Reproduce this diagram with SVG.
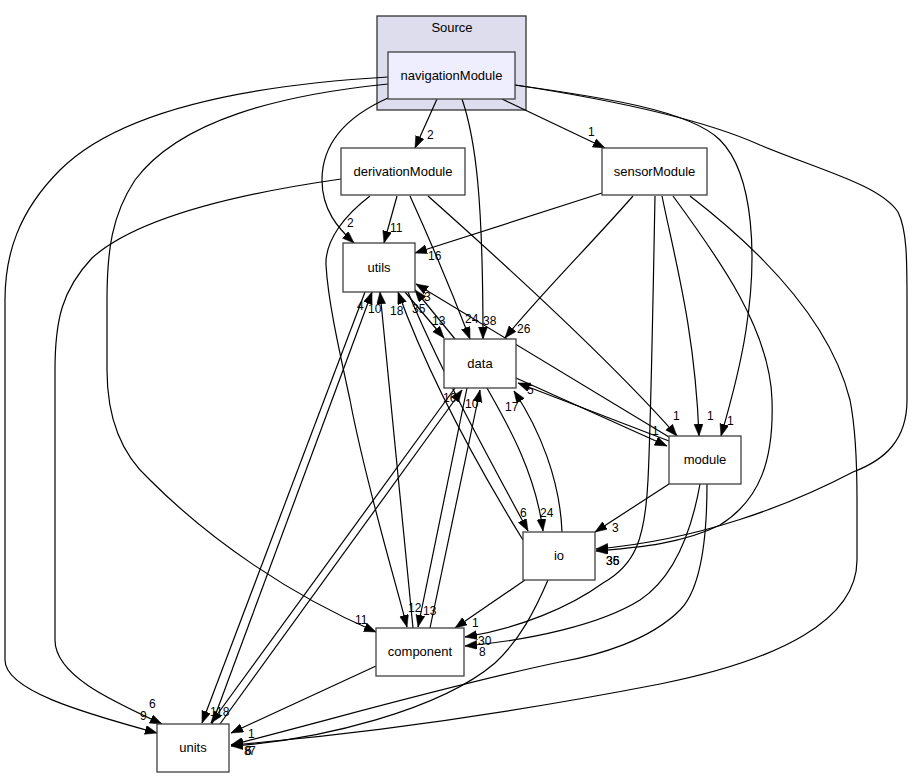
<svg xmlns="http://www.w3.org/2000/svg" width="913" height="777" viewBox="0 0 913 777">
<style>
.bg{fill:#ffffff}
.cl{fill:#ddddee;stroke:#333333;stroke-width:1.3}
.nd rect{fill:#ffffff;stroke:#404040;stroke-width:1.3}
.nd.hl rect{fill:#eeeeff}
.nt{font-family:"Liberation Sans",Arial,Helvetica,sans-serif;font-size:13px;fill:#000;text-anchor:middle}
.e path{fill:none;stroke:#000;stroke-width:1.2;marker-end:url(#ah)}
.e text{font-family:"Liberation Sans",Arial,Helvetica,sans-serif;font-size:12px;fill:#000}
</style>
<defs>
<marker id="ah" markerUnits="userSpaceOnUse" markerWidth="13" markerHeight="10" refX="12" refY="4.5" orient="auto">
<path d="M0,0 L12,4.5 L0,9 z" fill="#000" stroke="#000" stroke-width="0.5"/>
</marker>
</defs>
<rect class="bg" x="0" y="0" width="913" height="777"/>
<g id="cluster_Source">
<rect class="cl" x="377" y="16" width="149" height="94"/>
<text class="nt" x="452" y="32">Source</text>
</g>
<g id="connectors" class="e">
<path d="M437,99 L415,148"/><text x="427" y="139">2</text>
<path d="M502,99 L605,148"/><text x="588" y="136">1</text>
<path d="M388,98 C350,115 322,140 322,180 C322,210 338,228 354,243"/><text x="347" y="227">2</text>
<path d="M462,99 C476,140 483,200 483,339"/><text x="483" y="325">38</text>
<path d="M515,85 C600,97 690,110 720,140 C755,175 757,260 746,330 C740,370 730,405 721,436"/><text x="727" y="425">1</text>
<path d="M515,85 C600,98 700,118 760,145 C820,170 880,185 898,212 C907,230 907,260 907,300 L907,400 C907,440 885,460 853,472 C790,505 700,540 596,549"/><text x="606" y="565">36</text>
<path d="M388,84 C280,95 180,120 135,180 C112,215 107,250 107,300 L107,370 C107,420 122,455 150,480 C210,540 290,595 376,632"/><text x="355" y="624">11</text>
<path d="M388,77 C250,85 120,110 60,170 C18,212 5,255 5,300 L5,660 C5,690 80,712 157,733"/><text x="140" y="720">9</text>
<path d="M341,179 C250,192 140,215 92,258 C62,290 55,320 55,370 L55,640 C55,675 110,700 162,724"/><text x="149" y="708">6</text>
<path d="M397,196 L384,243"/><text x="390" y="232">11</text>
<path d="M410,196 C430,240 455,300 470,339"/><text x="465" y="323">24</text>
<path d="M428,196 C500,260 610,360 677,436"/><text x="673" y="420">1</text>
<path d="M370,196 C345,215 325,240 326,265 C328,300 338,345 350,400 C365,480 395,580 407,627"/><text x="408" y="612">12</text>
<path d="M602,193 L415,253"/><text x="428" y="260">16</text>
<path d="M633,196 C590,245 540,295 505,338"/><text x="517" y="333">26</text>
<path d="M662,196 C675,260 695,330 699,436"/><text x="707" y="420">1</text>
<path d="M655,196 C653,300 651,420 648,480 C645,540 635,565 603,583 C570,607 520,628 465,637"/><text x="478" y="645">30</text>
<path d="M673,196 C720,260 770,330 772,400 C774,460 760,500 720,525 C680,545 630,548 596,551"/><text x="606" y="565">35</text>
<path d="M690,196 C760,250 830,320 850,400 C856,430 857,470 857,500 L857,560 C857,620 780,660 660,684 C500,715 350,735 231,745"/><text x="249" y="755">7</text>
<path d="M405,292 L444,338"/><text x="432" y="325">13</text>
<path d="M408,292 C440,370 490,460 528,531"/><text x="520" y="517">6</text>
<path d="M365,292 L202,723"/><text x="210" y="716">1</text>
<path d="M455,339 L415,290"/><text x="412" y="313">35</text>
<path d="M455,388 L211,723"/><text x="216" y="716">18</text>
<path d="M487,388 C505,420 535,470 543,531"/><text x="540" y="517">24</text>
<path d="M516,378 L667,446"/><text x="652" y="435">1</text>
<path d="M467,388 L418,627"/><text x="423" y="615">13</text>
<path d="M413,628 L380,292"/><text x="368" y="313">10</text>
<path d="M430,628 L480,390"/><text x="465" y="408">10</text>
<path d="M376,666 L231,733"/><text x="248" y="738">1</text>
<path d="M523,540 C480,470 430,380 398,292"/><text x="390" y="315">18</text>
<path d="M562,532 C560,480 540,430 514,391"/><text x="505" y="411">17</text>
<path d="M525,580 L455,628"/><text x="472" y="627">1</text>
<path d="M548,580 C535,610 520,640 495,663 C440,710 320,740 231,746"/><text x="244" y="755">8</text>
<path d="M669,437 L416,284"/><text x="424" y="301">3</text>
<path d="M669,441 L518,383"/><text x="527" y="394">5</text>
<path d="M669,484 L595,532"/><text x="612" y="532">3</text>
<path d="M700,484 C690,540 670,580 640,600 C600,625 530,640 465,646"/><text x="479" y="656">8</text>
<path d="M707,484 C707,540 700,590 680,610 C650,640 600,655 560,662 C450,685 330,720 231,745"/><text x="245" y="755">6</text>
<path d="M212,724 L372,292"/><text x="357" y="310">4</text>
<path d="M220,724 L462,390"/><text x="443" y="402">16</text>
</g>
<g id="node_navigationModule" class="nd hl"><rect x="388" y="52" width="127" height="47"/><text class="nt" x="451.5" y="80">navigationModule</text></g>
<g id="node_derivationModule" class="nd"><rect x="341" y="148" width="124" height="47"/><text class="nt" x="403" y="176">derivationModule</text></g>
<g id="node_sensorModule" class="nd"><rect x="602" y="148" width="105" height="47"/><text class="nt" x="654.5" y="176">sensorModule</text></g>
<g id="node_utils" class="nd"><rect x="343" y="243" width="72" height="49"/><text class="nt" x="379" y="272">utils</text></g>
<g id="node_data" class="nd"><rect x="444" y="339" width="72" height="49"/><text class="nt" x="480" y="368">data</text></g>
<g id="node_module" class="nd"><rect x="669" y="436" width="72" height="48"/><text class="nt" x="705" y="464">module</text></g>
<g id="node_io" class="nd"><rect x="523" y="532" width="72" height="48"/><text class="nt" x="559" y="560">io</text></g>
<g id="node_component" class="nd"><rect x="376" y="628" width="88" height="48"/><text class="nt" x="420" y="656">component</text></g>
<g id="node_units" class="nd"><rect x="157" y="724" width="72" height="48"/><text class="nt" x="193" y="752">units</text></g>
</svg>
